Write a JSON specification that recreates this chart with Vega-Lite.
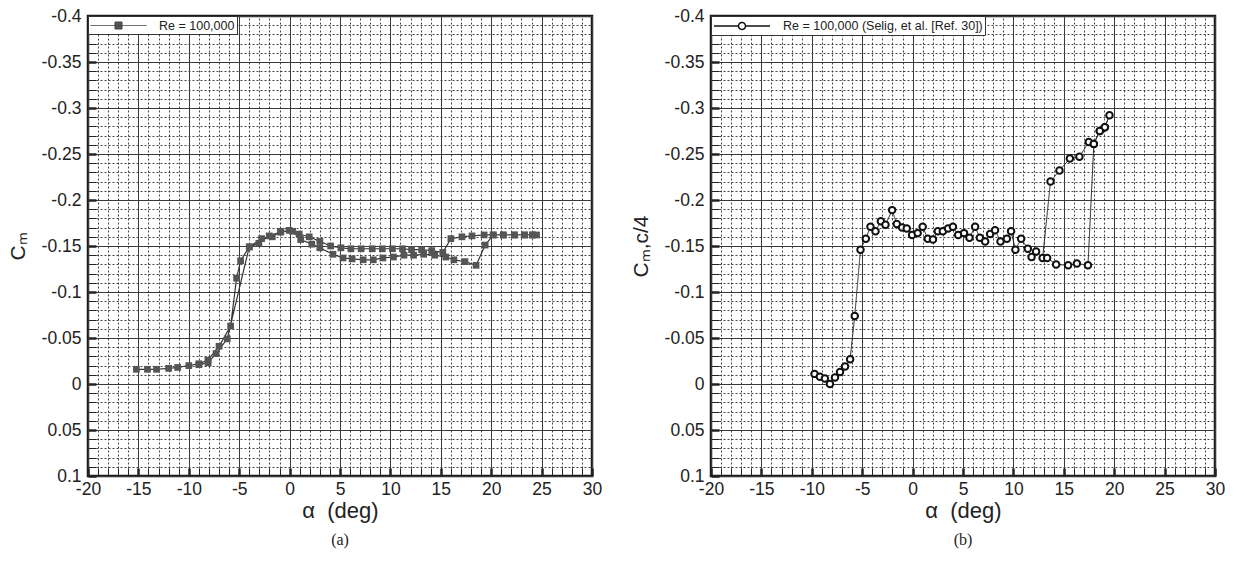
{
  "$schema": "https://vega.github.io/schema/vega-lite/v6.json",
  "padding": {"left": 5, "top": 5, "right": 5, "bottom": 5},
  "background": "white",
  "bounds": "flush",
  "spacing": 119,
  "config": {
    "font": "Liberation Sans",
    "view": {"stroke": "#1a1a1a", "strokeWidth": 2.5},
    "axis": {"domain": false, "labelOverlap": false, "labelBound": false, "labelFlush": false, "labelColor": "#222", "titleColor": "#222", "titleFontWeight": "normal", "labelFont": "Liberation Sans", "titleFont": "Liberation Sans"}
  },
  "datasets": {
    "a": [
      {"a": -15.2, "c": -0.016, "s": "Re = 100,000"},
      {"a": -14.1, "c": -0.016, "s": "Re = 100,000"},
      {"a": -13.2, "c": -0.016, "s": "Re = 100,000"},
      {"a": -12.0, "c": -0.017, "s": "Re = 100,000"},
      {"a": -11.1, "c": -0.018, "s": "Re = 100,000"},
      {"a": -10.0, "c": -0.020, "s": "Re = 100,000"},
      {"a": -9.0, "c": -0.022, "s": "Re = 100,000"},
      {"a": -8.1, "c": -0.026, "s": "Re = 100,000"},
      {"a": -7.0, "c": -0.041, "s": "Re = 100,000"},
      {"a": -5.85, "c": -0.063, "s": "Re = 100,000"},
      {"a": -5.26, "c": -0.115, "s": "Re = 100,000"},
      {"a": -4.86, "c": -0.134, "s": "Re = 100,000"},
      {"a": -4.0, "c": -0.149, "s": "Re = 100,000"},
      {"a": -3.05, "c": -0.153, "s": "Re = 100,000"},
      {"a": -2.02, "c": -0.161, "s": "Re = 100,000"},
      {"a": -0.9, "c": -0.165, "s": "Re = 100,000"},
      {"a": -0.04, "c": -0.167, "s": "Re = 100,000"},
      {"a": 0.95, "c": -0.163, "s": "Re = 100,000"},
      {"a": 1.95, "c": -0.160, "s": "Re = 100,000"},
      {"a": 3.0, "c": -0.155, "s": "Re = 100,000"},
      {"a": 4.07, "c": -0.150, "s": "Re = 100,000"},
      {"a": 5.09, "c": -0.148, "s": "Re = 100,000"},
      {"a": 6.08, "c": -0.147, "s": "Re = 100,000"},
      {"a": 7.1, "c": -0.147, "s": "Re = 100,000"},
      {"a": 8.2, "c": -0.147, "s": "Re = 100,000"},
      {"a": 9.2, "c": -0.147, "s": "Re = 100,000"},
      {"a": 10.2, "c": -0.147, "s": "Re = 100,000"},
      {"a": 11.2, "c": -0.147, "s": "Re = 100,000"},
      {"a": 12.1, "c": -0.146, "s": "Re = 100,000"},
      {"a": 13.1, "c": -0.146, "s": "Re = 100,000"},
      {"a": 14.1, "c": -0.145, "s": "Re = 100,000"},
      {"a": 15.2, "c": -0.143, "s": "Re = 100,000"},
      {"a": 16.0, "c": -0.158, "s": "Re = 100,000"},
      {"a": 17.1, "c": -0.160, "s": "Re = 100,000"},
      {"a": 18.1, "c": -0.161, "s": "Re = 100,000"},
      {"a": 19.3, "c": -0.162, "s": "Re = 100,000"},
      {"a": 20.2, "c": -0.162, "s": "Re = 100,000"},
      {"a": 21.2, "c": -0.162, "s": "Re = 100,000"},
      {"a": 22.3, "c": -0.162, "s": "Re = 100,000"},
      {"a": 23.3, "c": -0.162, "s": "Re = 100,000"},
      {"a": 24.1, "c": -0.162, "s": "Re = 100,000"},
      {"a": 24.5, "c": -0.162, "s": "Re = 100,000"},
      {"a": 24.1, "c": -0.162, "s": "Re = 100,000"},
      {"a": 23.3, "c": -0.162, "s": "Re = 100,000"},
      {"a": 22.3, "c": -0.162, "s": "Re = 100,000"},
      {"a": 21.2, "c": -0.162, "s": "Re = 100,000"},
      {"a": 20.2, "c": -0.162, "s": "Re = 100,000"},
      {"a": 19.4, "c": -0.151, "s": "Re = 100,000"},
      {"a": 18.5, "c": -0.129, "s": "Re = 100,000"},
      {"a": 17.4, "c": -0.133, "s": "Re = 100,000"},
      {"a": 16.3, "c": -0.135, "s": "Re = 100,000"},
      {"a": 15.5, "c": -0.138, "s": "Re = 100,000"},
      {"a": 14.4, "c": -0.140, "s": "Re = 100,000"},
      {"a": 13.3, "c": -0.141, "s": "Re = 100,000"},
      {"a": 12.3, "c": -0.140, "s": "Re = 100,000"},
      {"a": 11.35, "c": -0.140, "s": "Re = 100,000"},
      {"a": 10.3, "c": -0.138, "s": "Re = 100,000"},
      {"a": 9.25, "c": -0.137, "s": "Re = 100,000"},
      {"a": 8.3, "c": -0.135, "s": "Re = 100,000"},
      {"a": 7.3, "c": -0.135, "s": "Re = 100,000"},
      {"a": 6.2, "c": -0.136, "s": "Re = 100,000"},
      {"a": 5.3, "c": -0.137, "s": "Re = 100,000"},
      {"a": 4.3, "c": -0.141, "s": "Re = 100,000"},
      {"a": 3.0, "c": -0.148, "s": "Re = 100,000"},
      {"a": 2.2, "c": -0.152, "s": "Re = 100,000"},
      {"a": 1.1, "c": -0.157, "s": "Re = 100,000"},
      {"a": 0.3, "c": -0.166, "s": "Re = 100,000"},
      {"a": -0.86, "c": -0.166, "s": "Re = 100,000"},
      {"a": -1.72, "c": -0.160, "s": "Re = 100,000"},
      {"a": -2.78, "c": -0.158, "s": "Re = 100,000"},
      {"a": -4.0, "c": -0.149, "s": "Re = 100,000"},
      {"a": -6.19, "c": -0.049, "s": "Re = 100,000"},
      {"a": -7.3, "c": -0.033, "s": "Re = 100,000"},
      {"a": -8.08, "c": -0.023, "s": "Re = 100,000"},
      {"a": -9.0, "c": -0.021, "s": "Re = 100,000"}
    ],
    "b": [
      {"a": -9.73, "c": -0.011, "s": "Re = 100,000 (Selig, et al. [Ref. 30])"},
      {"a": -9.2, "c": -0.008, "s": "Re = 100,000 (Selig, et al. [Ref. 30])"},
      {"a": -8.7, "c": -0.006, "s": "Re = 100,000 (Selig, et al. [Ref. 30])"},
      {"a": -8.2, "c": 0.0, "s": "Re = 100,000 (Selig, et al. [Ref. 30])"},
      {"a": -7.7, "c": -0.007, "s": "Re = 100,000 (Selig, et al. [Ref. 30])"},
      {"a": -7.2, "c": -0.013, "s": "Re = 100,000 (Selig, et al. [Ref. 30])"},
      {"a": -6.7, "c": -0.019, "s": "Re = 100,000 (Selig, et al. [Ref. 30])"},
      {"a": -6.2, "c": -0.027, "s": "Re = 100,000 (Selig, et al. [Ref. 30])"},
      {"a": -5.74, "c": -0.074, "s": "Re = 100,000 (Selig, et al. [Ref. 30])"},
      {"a": -5.17, "c": -0.146, "s": "Re = 100,000 (Selig, et al. [Ref. 30])"},
      {"a": -4.64, "c": -0.158, "s": "Re = 100,000 (Selig, et al. [Ref. 30])"},
      {"a": -4.18, "c": -0.171, "s": "Re = 100,000 (Selig, et al. [Ref. 30])"},
      {"a": -3.68, "c": -0.166, "s": "Re = 100,000 (Selig, et al. [Ref. 30])"},
      {"a": -3.15, "c": -0.177, "s": "Re = 100,000 (Selig, et al. [Ref. 30])"},
      {"a": -2.69, "c": -0.173, "s": "Re = 100,000 (Selig, et al. [Ref. 30])"},
      {"a": -2.03, "c": -0.189, "s": "Re = 100,000 (Selig, et al. [Ref. 30])"},
      {"a": -1.57, "c": -0.174, "s": "Re = 100,000 (Selig, et al. [Ref. 30])"},
      {"a": -1.04, "c": -0.170, "s": "Re = 100,000 (Selig, et al. [Ref. 30])"},
      {"a": -0.58, "c": -0.169, "s": "Re = 100,000 (Selig, et al. [Ref. 30])"},
      {"a": -0.05, "c": -0.162, "s": "Re = 100,000 (Selig, et al. [Ref. 30])"},
      {"a": 0.5, "c": -0.164, "s": "Re = 100,000 (Selig, et al. [Ref. 30])"},
      {"a": 1.0, "c": -0.171, "s": "Re = 100,000 (Selig, et al. [Ref. 30])"},
      {"a": 1.5, "c": -0.158, "s": "Re = 100,000 (Selig, et al. [Ref. 30])"},
      {"a": 2.02, "c": -0.157, "s": "Re = 100,000 (Selig, et al. [Ref. 30])"},
      {"a": 2.5, "c": -0.166, "s": "Re = 100,000 (Selig, et al. [Ref. 30])"},
      {"a": 3.0, "c": -0.166, "s": "Re = 100,000 (Selig, et al. [Ref. 30])"},
      {"a": 3.52, "c": -0.169, "s": "Re = 100,000 (Selig, et al. [Ref. 30])"},
      {"a": 4.0, "c": -0.171, "s": "Re = 100,000 (Selig, et al. [Ref. 30])"},
      {"a": 4.52, "c": -0.162, "s": "Re = 100,000 (Selig, et al. [Ref. 30])"},
      {"a": 5.1, "c": -0.164, "s": "Re = 100,000 (Selig, et al. [Ref. 30])"},
      {"a": 5.64, "c": -0.159, "s": "Re = 100,000 (Selig, et al. [Ref. 30])"},
      {"a": 6.2, "c": -0.171, "s": "Re = 100,000 (Selig, et al. [Ref. 30])"},
      {"a": 6.67, "c": -0.159, "s": "Re = 100,000 (Selig, et al. [Ref. 30])"},
      {"a": 7.2, "c": -0.155, "s": "Re = 100,000 (Selig, et al. [Ref. 30])"},
      {"a": 7.69, "c": -0.163, "s": "Re = 100,000 (Selig, et al. [Ref. 30])"},
      {"a": 8.18, "c": -0.167, "s": "Re = 100,000 (Selig, et al. [Ref. 30])"},
      {"a": 8.72, "c": -0.155, "s": "Re = 100,000 (Selig, et al. [Ref. 30])"},
      {"a": 9.35, "c": -0.158, "s": "Re = 100,000 (Selig, et al. [Ref. 30])"},
      {"a": 9.77, "c": -0.166, "s": "Re = 100,000 (Selig, et al. [Ref. 30])"},
      {"a": 10.2, "c": -0.146, "s": "Re = 100,000 (Selig, et al. [Ref. 30])"},
      {"a": 10.77, "c": -0.158, "s": "Re = 100,000 (Selig, et al. [Ref. 30])"},
      {"a": 11.43, "c": -0.147, "s": "Re = 100,000 (Selig, et al. [Ref. 30])"},
      {"a": 11.8, "c": -0.138, "s": "Re = 100,000 (Selig, et al. [Ref. 30])"},
      {"a": 12.25, "c": -0.144, "s": "Re = 100,000 (Selig, et al. [Ref. 30])"},
      {"a": 12.9, "c": -0.137, "s": "Re = 100,000 (Selig, et al. [Ref. 30])"},
      {"a": 13.68, "c": -0.220, "s": "Re = 100,000 (Selig, et al. [Ref. 30])"},
      {"a": 14.57, "c": -0.232, "s": "Re = 100,000 (Selig, et al. [Ref. 30])"},
      {"a": 15.6, "c": -0.245, "s": "Re = 100,000 (Selig, et al. [Ref. 30])"},
      {"a": 16.55, "c": -0.247, "s": "Re = 100,000 (Selig, et al. [Ref. 30])"},
      {"a": 17.48, "c": -0.263, "s": "Re = 100,000 (Selig, et al. [Ref. 30])"},
      {"a": 17.98, "c": -0.261, "s": "Re = 100,000 (Selig, et al. [Ref. 30])"},
      {"a": 18.57, "c": -0.275, "s": "Re = 100,000 (Selig, et al. [Ref. 30])"},
      {"a": 19.07, "c": -0.279, "s": "Re = 100,000 (Selig, et al. [Ref. 30])"},
      {"a": 19.53, "c": -0.292, "s": "Re = 100,000 (Selig, et al. [Ref. 30])"},
      {"a": 19.07, "c": -0.279, "s": "Re = 100,000 (Selig, et al. [Ref. 30])"},
      {"a": 18.57, "c": -0.275, "s": "Re = 100,000 (Selig, et al. [Ref. 30])"},
      {"a": 17.98, "c": -0.261, "s": "Re = 100,000 (Selig, et al. [Ref. 30])"},
      {"a": 17.4, "c": -0.129, "s": "Re = 100,000 (Selig, et al. [Ref. 30])"},
      {"a": 16.3, "c": -0.131, "s": "Re = 100,000 (Selig, et al. [Ref. 30])"},
      {"a": 15.43, "c": -0.129, "s": "Re = 100,000 (Selig, et al. [Ref. 30])"},
      {"a": 14.24, "c": -0.130, "s": "Re = 100,000 (Selig, et al. [Ref. 30])"},
      {"a": 13.35, "c": -0.137, "s": "Re = 100,000 (Selig, et al. [Ref. 30])"}
    ]
  },
  "resolve": {"scale": {"strokeDash": "independent"}, "legend": {"strokeDash": "independent"}},
  "hconcat": [
    {
      "width": 504,
      "height": 460,
      "title": {"text": "(a)", "orient": "bottom", "frame": "group", "anchor": "middle", "font": "Liberation Serif", "fontSize": 16, "fontWeight": "normal", "color": "#222", "offset": 10},
      "data": {"name": "a"},
      "encoding": {
        "x": {"field": "a", "type": "quantitative", "scale": {"domain": [-20, 30], "nice": false, "zero": false},
          "axis": {"title": "α \u00a0(deg)", "titleFontSize": 22, "titlePadding": 3, "labelFontSize": 17.5, "labelPadding": 12, "tickSize": -8, "tickColor": "#222",
            "tickWidth": {"condition": {"test": "datum.value % 5 === 0", "value": 2.5}, "value": 1},
            "values": [-20,-19,-18,-17,-16,-15,-14,-13,-12,-11,-10,-9,-8,-7,-6,-5,-4,-3,-2,-1,0,1,2,3,4,5,6,7,8,9,10,11,12,13,14,15,16,17,18,19,20,21,22,23,24,25,26,27,28,29,30],
            "labelExpr": "datum.value % 5 === 0 ? '' + datum.value : ''",
            "gridDash": {"condition": {"test": "datum.value % 5 === 0", "value": []}, "value": [2, 2]},
            "gridColor": {"condition": {"test": "datum.value % 5 === 0", "value": "#3a3a3a"}, "value": "#444"},
            "gridWidth": 1, "gridOpacity": 1}},
        "y": {"field": "c", "type": "quantitative", "scale": {"domain": [-0.4, 0.1], "nice": false, "zero": false, "reverse": true},
          "axis": {"title": "Cₘ", "titleFontSize": 21, "titlePadding": 12, "labelFontSize": 17.5, "labelPadding": 15, "tickSize": -8, "tickColor": "#222", "minExtent": 48, "maxExtent": 48,
            "tickWidth": {"condition": {"test": "abs(round(datum.value*100)) % 5 === 0", "value": 2.5}, "value": 1},
            "values": [-0.4,-0.39,-0.38,-0.37,-0.36,-0.35,-0.34,-0.33,-0.32,-0.31,-0.3,-0.29,-0.28,-0.27,-0.26,-0.25,-0.24,-0.23,-0.22,-0.21,-0.2,-0.19,-0.18,-0.17,-0.16,-0.15,-0.14,-0.13,-0.12,-0.11,-0.1,-0.09,-0.08,-0.07,-0.06,-0.05,-0.04,-0.03,-0.02,-0.01,0,0.01,0.02,0.03,0.04,0.05,0.06,0.07,0.08,0.09,0.1],
            "labelExpr": "abs(round(datum.value*100)) % 5 === 0 ? '' + datum.value : ''",
            "gridDash": {"condition": {"test": "abs(round(datum.value*100)) % 5 === 0", "value": []}, "value": [2, 2]},
            "gridColor": {"condition": {"test": "abs(round(datum.value*100)) % 5 === 0", "value": "#3a3a3a"}, "value": "#444"},
            "gridWidth": 1, "gridOpacity": 1}}
      },
      "layer": [
        {"mark": {"type": "line", "color": "#333", "strokeWidth": 1.2},
         "encoding": {"order": {"value": null},
           "strokeDash": {"field": "s", "type": "nominal", "scale": {"range": [[1, 0]]},
             "legend": {"orient": "top-left", "offset": 0, "title": null, "padding": 2, "fillColor": "white", "strokeColor": "#333",
               "symbolType": "M-1,0L7,0M2.5,-0.5L3.5,-0.5L3.5,0.5L2.5,0.5Z", "symbolSize": 196, "symbolStrokeColor": "#444", "symbolFillColor": "#555", "symbolStrokeWidth": 1,
               "labelFontSize": 12.5, "labelOffset": 54, "labelLimit": 0, "labelColor": "#222", "labelFont": "Liberation Sans"}}}},
        {"mark": {"type": "point", "shape": "square", "filled": true, "size": 45, "color": "#555", "opacity": 1}}
      ]
    },
    {
      "width": 504,
      "height": 460,
      "title": {"text": "(b)", "orient": "bottom", "frame": "group", "anchor": "middle", "font": "Liberation Serif", "fontSize": 16, "fontWeight": "normal", "color": "#222", "offset": 10},
      "data": {"name": "b"},
      "encoding": {
        "x": {"field": "a", "type": "quantitative", "scale": {"domain": [-20, 30], "nice": false, "zero": false},
          "axis": {"title": "α \u00a0(deg)", "titleFontSize": 22, "titlePadding": 3, "labelFontSize": 17.5, "labelPadding": 12, "tickSize": -8, "tickColor": "#222",
            "tickWidth": {"condition": {"test": "datum.value % 5 === 0", "value": 2.5}, "value": 1},
            "values": [-20,-19,-18,-17,-16,-15,-14,-13,-12,-11,-10,-9,-8,-7,-6,-5,-4,-3,-2,-1,0,1,2,3,4,5,6,7,8,9,10,11,12,13,14,15,16,17,18,19,20,21,22,23,24,25,26,27,28,29,30],
            "labelExpr": "datum.value % 5 === 0 ? '' + datum.value : ''",
            "gridDash": {"condition": {"test": "datum.value % 5 === 0", "value": []}, "value": [2, 2]},
            "gridColor": {"condition": {"test": "datum.value % 5 === 0", "value": "#3a3a3a"}, "value": "#444"},
            "gridWidth": 1, "gridOpacity": 1}},
        "y": {"field": "c", "type": "quantitative", "scale": {"domain": [-0.4, 0.1], "nice": false, "zero": false, "reverse": true},
          "axis": {"title": "Cₘ,c/4", "titleFontSize": 21, "titlePadding": 12, "labelFontSize": 17.5, "labelPadding": 15, "tickSize": -8, "tickColor": "#222", "minExtent": 48, "maxExtent": 48,
            "tickWidth": {"condition": {"test": "abs(round(datum.value*100)) % 5 === 0", "value": 2.5}, "value": 1},
            "values": [-0.4,-0.39,-0.38,-0.37,-0.36,-0.35,-0.34,-0.33,-0.32,-0.31,-0.3,-0.29,-0.28,-0.27,-0.26,-0.25,-0.24,-0.23,-0.22,-0.21,-0.2,-0.19,-0.18,-0.17,-0.16,-0.15,-0.14,-0.13,-0.12,-0.11,-0.1,-0.09,-0.08,-0.07,-0.06,-0.05,-0.04,-0.03,-0.02,-0.01,0,0.01,0.02,0.03,0.04,0.05,0.06,0.07,0.08,0.09,0.1],
            "labelExpr": "abs(round(datum.value*100)) % 5 === 0 ? '' + datum.value : ''",
            "gridDash": {"condition": {"test": "abs(round(datum.value*100)) % 5 === 0", "value": []}, "value": [2, 2]},
            "gridColor": {"condition": {"test": "abs(round(datum.value*100)) % 5 === 0", "value": "#3a3a3a"}, "value": "#444"},
            "gridWidth": 1, "gridOpacity": 1}}
      },
      "layer": [
        {"mark": {"type": "line", "color": "#222", "strokeWidth": 1},
         "encoding": {"order": {"value": null},
           "strokeDash": {"field": "s", "type": "nominal", "scale": {"range": [[1, 0]]},
             "legend": {"orient": "top-left", "offset": 0, "title": null, "padding": 2, "fillColor": "white", "strokeColor": "#333",
               "symbolType": "M-1,0L2.5,0M3.5,0L7,0M2.5,0A0.5,0.5,0,1,1,3.5,0A0.5,0.5,0,1,1,2.5,0", "symbolSize": 196, "symbolStrokeColor": "#111", "symbolFillColor": "white", "symbolStrokeWidth": 1.5,
               "labelFontSize": 12.5, "labelOffset": 54, "labelLimit": 0, "labelColor": "#222", "labelFont": "Liberation Sans"}}}},
        {"mark": {"type": "point", "shape": "circle", "filled": false, "fill": "white", "stroke": "#111", "strokeWidth": 2, "size": 42, "opacity": 1}}
      ]
    }
  ]
}
